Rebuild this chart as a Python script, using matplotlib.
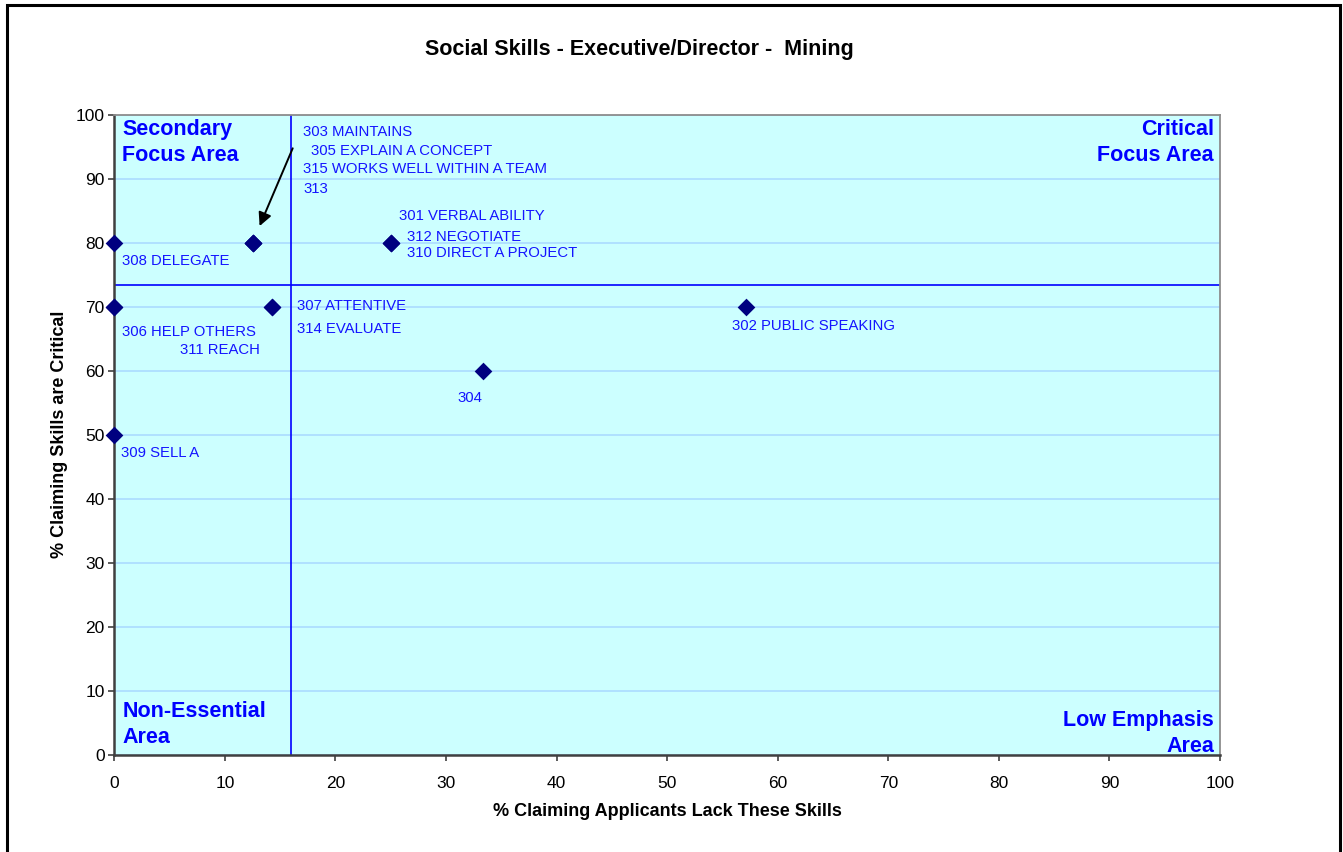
import matplotlib
matplotlib.use("Agg")
import matplotlib.pyplot as plt
from matplotlib.patches import Rectangle

# ---------------- data ----------------
codes = ["301 VERBAL ABILITY", "302 PUBLIC SPEAKING", "303 MAINTAINS", "304",
         "305 EXPLAIN A CONCEPT", "306 HELP OTHERS", "307 ATTENTIVE", "308 DELEGATE",
         "309 SELL A", "310 DIRECT A PROJECT", "311 REACH", "312 NEGOTIATE",
         "313", "314 EVALUATE", "315 WORKS WELL WITHIN A TEAM"]
lack_pct = [25.0, 57.14, 12.5, 33.33, 12.5, 0.0, 14.29, 0.0,
            0.0, 25.0, 0.0, 25.0, 12.5, 14.29, 12.5]
critical_pct = [80, 70, 80, 60, 80, 70, 70, 80, 50, 80, 70, 80, 80, 70, 80]

x_ticks = [0, 10, 20, 30, 40, 50, 60, 70, 80, 90, 100]
y_ticks = [0, 10, 20, 30, 40, 50, 60, 70, 80, 90, 100]
x_divider = 15.95
y_divider = 73.4

title = "Social Skills - Executive/Director -  Mining"
xlabel = "% Claiming Applicants Lack These Skills"
ylabel = "% Claiming Skills are Critical"

# label offsets in pixels (dx right, dy up) relative to each point
label_offsets = {
    "301 VERBAL ABILITY": (8.6, 27),
    "302 PUBLIC SPEAKING": (-14.4, -19.3),
    "303 MAINTAINS": (50.8, 110.4),
    "304": (-25.6, -27.6),
    "305 EXPLAIN A CONCEPT": (58.2, 91.7),
    "306 HELP OTHERS": (8, -25.6),
    "307 ATTENTIVE": (24.4, 0.7),
    "308 DELEGATE": (8, -18.6),
    "309 SELL A": (6.4, -18.6),
    "310 DIRECT A PROJECT": (16, -10),
    "311 REACH": (65.7, -43.3),
    "312 NEGOTIATE": (16, 6),
    "313": (50.8, 53.4),
    "314 EVALUATE": (24.4, -22.3),
    "315 WORKS WELL WITHIN A TEAM": (50.8, 73.4),
}

# ---------------- figure ----------------
W, H = 1343, 852
fig = plt.figure(figsize=(W / 100, H / 100), dpi=100)
fig.patch.set_facecolor("white")

ax = fig.add_axes([114.3 / W, 1 - 754.7 / H, (1220 - 114.3) / W, (754.7 - 114.7) / H])
ax.set_facecolor("#CCFFFF")
ax.set_xlim(0, 100)
ax.set_ylim(0, 100)
ax.set_xticks(x_ticks)
ax.set_yticks(y_ticks)

tick_font = ["Liberation Sans Narrow", "Liberation Sans"]
ax.set_xticklabels([str(t) for t in x_ticks], family=tick_font, fontsize=12.5)
ax.set_yticklabels([str(t) for t in y_ticks], family=tick_font, fontsize=12.5)
ax.tick_params(axis="x", direction="out", length=4, width=1.2, color="#404040", pad=11)
ax.tick_params(axis="y", direction="out", length=4, width=1.2, color="#404040", pad=3)

ax.yaxis.grid(True, color="#A8D8FF", linewidth=1.1)
ax.set_axisbelow(True)

for side in ("left", "bottom"):
    ax.spines[side].set_color("#404040")
    ax.spines[side].set_linewidth(1.8)
for side in ("top", "right"):
    ax.spines[side].set_color("#8C8C8C")
    ax.spines[side].set_linewidth(1.3)

# divider lines
ax.axvline(x_divider, color="#0000FF", linewidth=1.2, zorder=2)
ax.axhline(y_divider, color="#0000FF", linewidth=1.2, zorder=2)

# points
ax.scatter(lack_pct, critical_pct, marker="D", s=9.0 ** 2, color="#000080",
           zorder=4, clip_on=False, linewidths=0)

# point labels
for name, xv, yv in zip(codes, lack_pct, critical_pct):
    dx, dy = label_offsets[name]
    ax.annotate(name, xy=(xv, yv), xytext=(dx, dy), textcoords="offset pixels",
                ha="left", va="center", fontsize=10.7, color="#1414FF",
                family="Liberation Sans", zorder=5)

# arrow pointing to the stacked point at (12.5, 80)
ax.annotate("", xy=(lack_pct[2], critical_pct[2]), xytext=(40.2 * 0.72, 94.4 * 0.72),
            textcoords="offset points",
            arrowprops=dict(arrowstyle="-|>", color="black", lw=1.4,
                            mutation_scale=20, shrinkA=0, shrinkB=13),
            zorder=5)

# quadrant labels
qkw = dict(transform=ax.transAxes, color="#0000FF", fontsize=15.5,
           fontweight="bold", family="Liberation Sans", linespacing=1.32)
ax.text(8 / 1105.7, 1 - 4 / 640, "Secondary\nFocus Area", ha="left", va="top", **qkw)
ax.text(1 - 6 / 1105.7, 1 - 4 / 640, "Critical\nFocus Area", ha="right", va="top", **qkw)
ax.text(8 / 1105.7, 12 / 640, "Non-Essential\nArea", ha="left", va="baseline", **qkw)
ax.text(1 - 6 / 1105.7, 2.5 / 640, "Low Emphasis\nArea", ha="right", va="baseline", **qkw)

# titles
fig.text(639 / W, 1 - 50 / H, title, ha="center", va="center", fontsize=15.5,
         fontweight="bold", family="Liberation Sans")
fig.text(667 / W, 1 - 812 / H, xlabel, ha="center", va="center", fontsize=13,
         fontweight="bold", family="Liberation Sans")
fig.text(60 / W, 1 - 434 / H, ylabel, ha="center", va="center", rotation=90,
         fontsize=13, fontweight="bold", family="Liberation Sans")

# outer chart frame (bottom edge runs off the image)
fig.patches.append(Rectangle((7 / W, -0.05), (1339.5 - 7) / W, 1.05 - 5.5 / H,
                             transform=fig.transFigure, fill=False,
                             edgecolor="black", linewidth=2.2, clip_on=False))

fig.savefig("out.png", dpi=100)
